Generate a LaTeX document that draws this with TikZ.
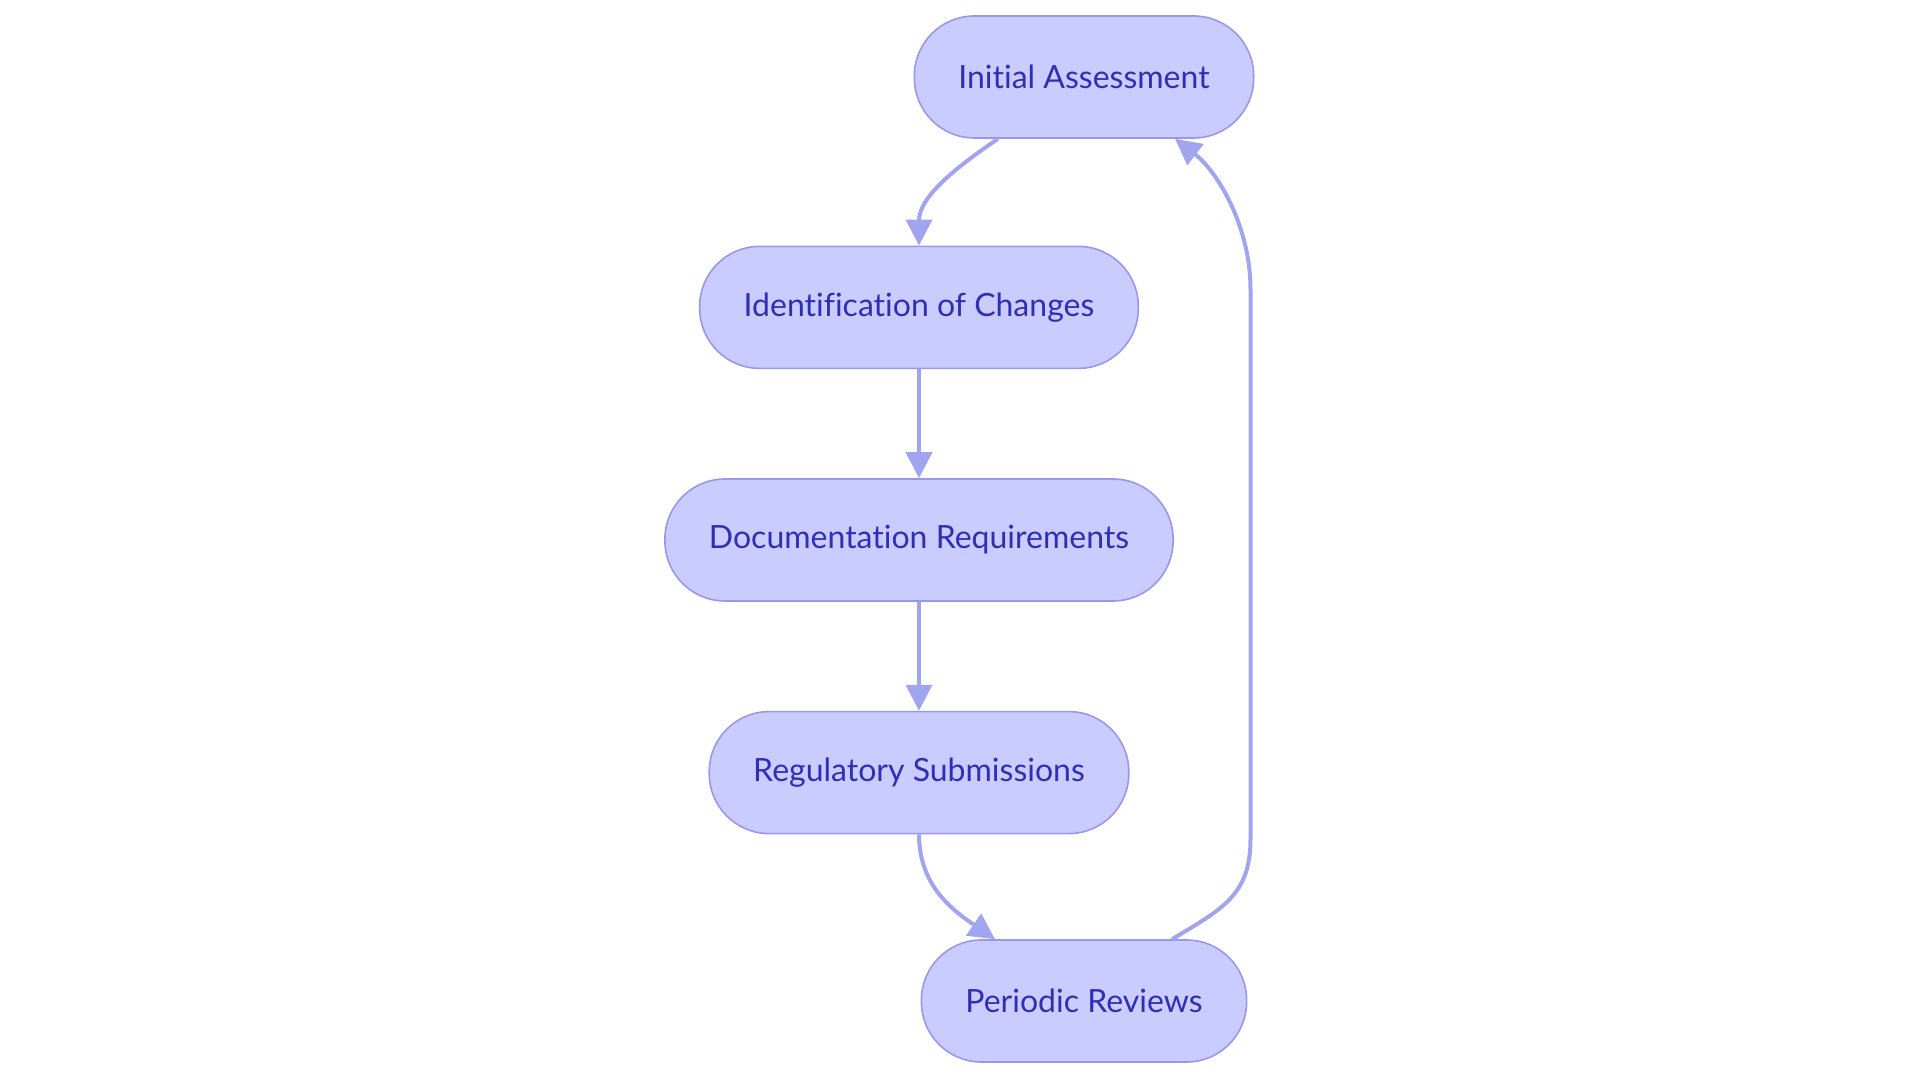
\documentclass[tikz,border=0pt]{standalone}
\usepackage{fontspec}
\setmainfont{Lato}[Ligatures=NoCommon]
\usetikzlibrary{positioning, shapes, arrows.meta, calc}

\definecolor{stagefill}{HTML}{CACBFE}
\definecolor{stageline}{HTML}{9799E8}
\definecolor{stagetext}{HTML}{2F2FB5}
\definecolor{flowline}{HTML}{A1A4EE}

\tikzset{
    stage/.style={rectangle, rounded corners=30pt, draw=stageline, line width=0.8pt,
        fill=stagefill, text=stagetext, minimum height=61pt, inner xsep=22pt,
        font=\fontsize{16}{19}\selectfont},
    flow/.style={draw=flowline, line width=2pt, -{Triangle[length=13pt, width=13pt]}}
}

\begin{document}
\begin{tikzpicture}[node distance=54.5pt]
    \useasboundingbox (0,0) rectangle (960pt,540pt);
    \node[stage] (dr) at (459.5pt,270pt) {Documentation Requirements};
    \node[stage, above=of dr] (ic) {Identification of Changes};
    \node[stage, below=of dr] (rs) {Regulatory Submissions};
    \node[stage] (ia) at (542pt,501.5pt) {Initial Assessment};
    \node[stage] (pr) at (542pt,39.5pt) {Periodic Reviews};

    \draw[flow] ([xshift=-43pt]ia.south) .. controls +(-19pt,-13pt) and +(0,25pt) .. (ic.north);
    \draw[flow] (ic) -- (dr);
    \draw[flow] (dr) -- (rs);
    \draw[flow] (rs.south) .. controls +(0,-25pt) and +(-22pt,15pt) .. ([xshift=-44.5pt]pr.north);
    % loop back to the start
    \draw[flow] ([xshift=44pt]pr.north) .. controls +(25pt,15pt) and +(0,-28pt) .. ($(pr.north -| ia.east)+(-2pt,50pt)$)
        -- ($(ia.south -| ia.east)+(-2pt,-75pt)$) .. controls +(0,30pt) and +(22pt,-17pt) .. ([xshift=45.5pt]ia.south);
\end{tikzpicture}
\end{document}
